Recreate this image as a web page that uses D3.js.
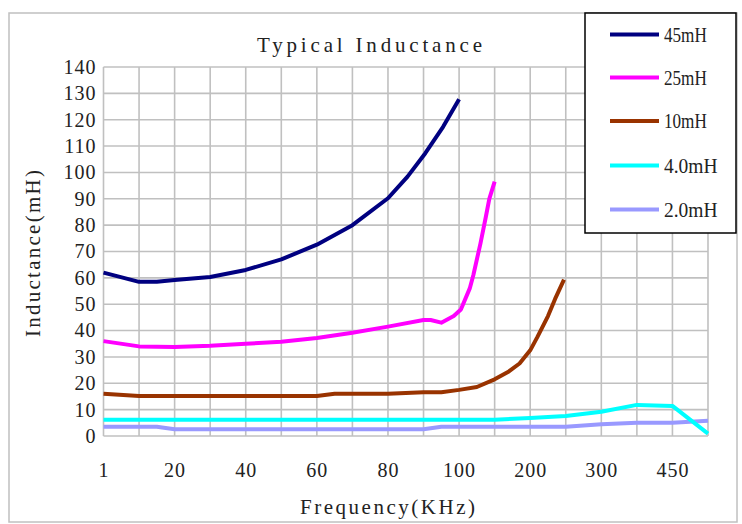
<!DOCTYPE html>
<html>
<head>
<meta charset="utf-8">
<script src="https://cdn.jsdelivr.net/npm/d3@7"></script>
<style>
  html, body { margin: 0; padding: 0; background: #fff; }
  svg { display: block; }
  text { font-family: "Liberation Serif", "DejaVu Serif", serif; fill: #222; }
</style>
</head>
<body>
<svg id="chart" width="742" height="524"></svg>
<script>
// ---- data (x given as category position index on the frequency axis) ----
const xTickLabels = ["1", "20", "40", "60", "80", "100", "200", "300", "450"];
const xTickIndex  = [0, 2, 4, 6, 8, 10, 12, 14, 16];
const yTicks = [0, 10, 20, 30, 40, 50, 60, 70, 80, 90, 100, 110, 120, 130, 140];

const seriesNames = ["45mH", "25mH", "10mH", "4.0mH", "2.0mH"];
const seriesColors = ["#000080", "#FF00FF", "#993300", "#00FFFF", "#9999FF"];

const s45 = [[0,62],[1,58.5],[1.5,58.5],[2,59.2],[3,60.3],[4,63],[5,67],[6,72.6],[7,80],[8,90.2],[8.55,98.4],[9.05,107.3],[9.55,117.3],[10,127.8]];
const s25 = [[0,36],[1,34],[2,33.8],[3,34.2],[4,35],[5,35.8],[6,37.2],[7,39.2],[8,41.5],[9,44],[9.2,44],[9.5,43],[9.85,45.5],[10.05,48],[10.3,56],[10.4,61],[10.6,73],[10.75,83],[10.85,90],[11,96.5]];
const s10 = [[0,16],[1,15.2],[2,15.2],[3,15.2],[4,15.2],[5,15.2],[6,15.2],[6.5,16],[7,16],[8,16],[9,16.6],[9.5,16.6],[10,17.5],[10.5,18.6],[11,21.5],[11.4,24.5],[11.7,27.5],[12,32.5],[12.2,37.5],[12.5,45.5],[12.7,52],[12.95,59.3]];
const s4  = [[0,6.2],[1,6.2],[2,6.2],[3,6.2],[4,6.2],[5,6.2],[6,6.2],[7,6.2],[8,6.2],[9,6.2],[10,6.2],[11,6.2],[12,6.8],[13,7.6],[14,9.2],[15,11.8],[16,11.4],[17,0.9]];
const s2  = [[0,3.5],[1,3.5],[1.5,3.5],[2,2.6],[3,2.6],[4,2.6],[5,2.6],[6,2.6],[7,2.6],[8,2.6],[9,2.6],[9.5,3.5],[10,3.5],[11,3.5],[12,3.5],[13,3.5],[14,4.5],[15,5],[16,5],[17,5.8]];
const seriesData = [s45, s25, s10, s4, s2];

// ---- layout ----
const svg = d3.select("#chart");
const plot = { left: 103.5, right: 708, top: 67, bottom: 436 };
const x = d3.scaleLinear().domain([0, 17]).range([plot.left, plot.right]);
const y = d3.scaleLinear().domain([0, 140]).range([plot.bottom, plot.top]);

// outer chart border
svg.append("rect").attr("x", 9).attr("y", 13).attr("width", 728).attr("height", 509)
  .attr("fill", "#fff").attr("stroke", "#c0c0c0").attr("stroke-width", 1.5);

// gridlines
const grid = svg.append("g").attr("stroke", "#c0c0c0").attr("stroke-width", 1.6);
d3.range(0, 18).forEach(i => {
  grid.append("line").attr("x1", x(i)).attr("x2", x(i)).attr("y1", plot.top).attr("y2", plot.bottom);
});
yTicks.forEach(v => {
  grid.append("line").attr("x1", plot.left).attr("x2", plot.right).attr("y1", y(v)).attr("y2", y(v));
});

// y axis labels
const yAxis = d3.axisLeft(y).tickValues(yTicks).tickSize(0).tickPadding(7);
const ga = svg.append("g").attr("transform", `translate(${plot.left},0)`).call(yAxis);
ga.select(".domain").remove();
ga.selectAll("text").attr("font-family", "Liberation Serif").attr("font-size", 20)
  .attr("fill", "#222").attr("letter-spacing", 1);

// x axis labels
const xAxis = d3.axisBottom(x).tickValues(xTickIndex)
  .tickFormat((d, i) => xTickLabels[i]).tickSize(0).tickPadding(27);
const gx = svg.append("g").attr("transform", `translate(0,${plot.bottom})`).call(xAxis);
gx.select(".domain").remove();
gx.selectAll("text").attr("font-family", "Liberation Serif").attr("font-size", 20)
  .attr("fill", "#222").attr("letter-spacing", 1);

// lines
const line = d3.line().x(d => x(d[0])).y(d => y(d[1]));
seriesData.slice().reverse().forEach((data, k) => {
  const i = seriesData.length - 1 - k;
  svg.append("path").datum(data).attr("d", line)
    .attr("fill", "none").attr("stroke", seriesColors[i])
    .attr("stroke-width", 4).attr("stroke-linejoin", "round");
});

// title
svg.append("text").attr("x", 257).attr("y", 52).attr("font-size", 21)
  .attr("textLength", 225).attr("lengthAdjust", "spacing")
  .text("Typical Inductance");

// axis titles
svg.append("text").attr("x", 300).attr("y", 514).attr("font-size", 21)
  .attr("textLength", 175).attr("lengthAdjust", "spacing")
  .text("Frequency(KHz)");
svg.append("text").attr("transform", "translate(40,337) rotate(-90)")
  .attr("font-size", 21).attr("textLength", 167).attr("lengthAdjust", "spacing")
  .text("Inductance(mH)");

// legend
svg.append("rect").attr("x", 585).attr("y", 13).attr("width", 151).attr("height", 220)
  .attr("fill", "#fff").attr("stroke", "#000").attr("stroke-width", 1.5);
const legY = [34.5, 77.5, 121, 165.5, 209.5];
seriesNames.forEach((name, i) => {
  svg.append("line").attr("x1", 610).attr("x2", 659).attr("y1", legY[i]).attr("y2", legY[i])
    .attr("stroke", seriesColors[i]).attr("stroke-width", 4);
  svg.append("text").attr("x", 664).attr("y", legY[i] + 7).attr("font-size", 20)
    .attr("textLength", name.length * 10.7).attr("lengthAdjust", "spacingAndGlyphs")
    .text(name);
});
</script>
</body>
</html>
